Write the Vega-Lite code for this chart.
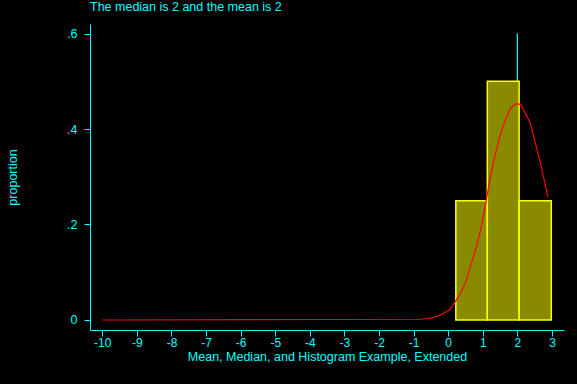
{
  "$schema": "https://vega.github.io/schema/vega-lite/v6.json",
  "autosize": "none",
  "width": 474,
  "height": 306,
  "padding": {"left": 90, "top": 24, "right": 13, "bottom": 54},
  "background": "black",
  "config": {"view": {"stroke": null}, "font": "Liberation Sans"},
  "title": {"text": "The median is 2 and the mean is 2", "anchor": "start", "color": "#00ffff", "fontSize": 12.5, "fontWeight": "normal", "font": "Liberation Sans", "offset": 11, "frame": "group"},
  "datasets": {
    "bars": [
      {"x": 0.22, "xe": 1.13, "y": 0.25},
      {"x": 1.13, "xe": 2.05, "y": 0.5},
      {"x": 2.05, "xe": 2.98, "y": 0.25}
    ],
    "curve": [
      {"x": -10, "y": 0},
      {"x": -0.82, "y": 0.0015},
      {"x": -0.53, "y": 0.0035},
      {"x": -0.24, "y": 0.0098},
      {"x": 0.05, "y": 0.022},
      {"x": 0.22, "y": 0.04},
      {"x": 0.38, "y": 0.059},
      {"x": 0.53, "y": 0.084},
      {"x": 0.67, "y": 0.119},
      {"x": 0.82, "y": 0.154},
      {"x": 0.96, "y": 0.196},
      {"x": 1.085, "y": 0.244},
      {"x": 1.2, "y": 0.293},
      {"x": 1.345, "y": 0.342},
      {"x": 1.49, "y": 0.384},
      {"x": 1.63, "y": 0.415},
      {"x": 1.78, "y": 0.44},
      {"x": 1.92, "y": 0.452},
      {"x": 2.09, "y": 0.452},
      {"x": 2.36, "y": 0.415},
      {"x": 2.645, "y": 0.335},
      {"x": 2.885, "y": 0.258}
    ],
    "ref": [{"x": 2, "y": 0.6, "ye": 0}]
  },
  "encoding": {
    "x": {"field": "x", "type": "quantitative", "scale": {"domain": [-10.355, 3.347], "nice": false, "zero": false},
      "axis": {"values": [-10,-9,-8,-7,-6,-5,-4,-3,-2,-1,0,1,2,3], "title": "Mean, Median, and Histogram Example, Extended",
        "labelExpr": "datum.value + ''", "labelOverlap": false,
        "domainColor": "#00ffff", "tickColor": "#00ffff", "labelColor": "#00ffff", "titleColor": "#00ffff",
        "tickSize": 6, "labelPadding": 1, "labelFontSize": 12, "titleFontSize": 12.5, "titleFontWeight": "normal",
        "grid": false, "labelFlush": false, "titleBaseline": "alphabetic", "titleY": 30, "labelFont": "Liberation Sans", "titleFont": "Liberation Sans"}},
    "y": {"field": "y", "type": "quantitative", "scale": {"domain": [-0.021, 0.62], "nice": false, "zero": false},
      "axis": {"values": [0, 0.2, 0.4, 0.6], "title": "proportion", "labelOverlap": false,
        "labelExpr": "datum.value == 0 ? '0' : replace(format(datum.value, '.1f'), '0.', '.')",
        "domainColor": "#00ffff", "tickColor": "#00ffff", "labelColor": "#00ffff", "titleColor": "#00ffff",
        "tickSize": 6, "labelPadding": 7, "labelFontSize": 12.5, "titleFontSize": 12.5, "titleFontWeight": "normal",
        "grid": false, "labelFlush": false, "titleX": -78, "titleY": 153, "titleBaseline": "middle", "titleAlign": "center",
        "labelFont": "Liberation Sans", "titleFont": "Liberation Sans"}}
  },
  "layer": [
    {
      "data": {"name": "ref"},
      "mark": {"type": "rule", "color": "#00ffff", "strokeWidth": 1.2},
      "encoding": {"y2": {"field": "ye"}}
    },
    {
      "data": {"name": "bars"},
      "mark": {"type": "bar", "fill": "#8a8a00", "stroke": "#ffff00", "strokeWidth": 1.5},
      "encoding": {"x2": {"field": "xe"}, "y2": {"datum": 0}}
    },
    {
      "data": {"name": "curve"},
      "mark": {"type": "line", "color": "#ff0000", "strokeWidth": 1.2},
      "encoding": {}
    }
  ]
}
